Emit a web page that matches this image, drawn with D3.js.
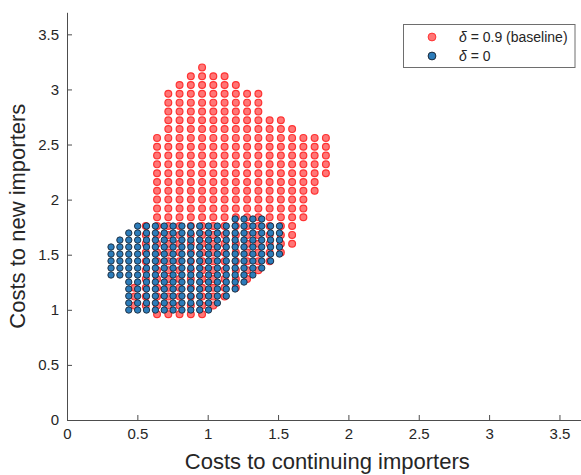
<!DOCTYPE html>
<html>
<head>
<meta charset="utf-8">
<script src="https://cdn.jsdelivr.net/npm/d3@7/dist/d3.min.js"></script>
<style>
  html, body { margin: 0; padding: 0; background: #ffffff; }
  svg { display: block; font-family: "Liberation Sans", Arial, Helvetica, sans-serif; }
</style>
</head>
<body>
<svg id="chart" width="581" height="475"></svg>
<script>
// Axis ticks
const xTicks = [0, 0.5, 1, 1.5, 2, 2.5, 3, 3.5];
const yTicks = [0, 0.5, 1, 1.5, 2, 2.5, 3, 3.5];
const xTickLabels = ["0", "0.5", "1", "1.5", "2", "2.5", "3", "3.5"];
const yTickLabels = ["0", "0.5", "1", "1.5", "2", "2.5", "3", "3.5"];

// delta = 0.9 (baseline): grid of cost pairs, column by column
const redX      = [0.48, 0.56, 0.64, 0.72, 0.80, 0.88, 0.96, 1.04, 1.12, 1.20, 1.28, 1.36, 1.44, 1.52, 1.60, 1.68, 1.76, 1.84];
const redBottom = [1.04, 1.04, 0.96, 0.96, 0.96, 0.96, 0.96, 1.04, 1.12, 1.20, 1.28, 1.36, 1.44, 1.52, 1.60, 1.84, 2.08, 2.24];
const redTop    = [1.20, 1.76, 2.56, 2.96, 3.04, 3.12, 3.20, 3.12, 3.12, 3.04, 2.96, 2.96, 2.72, 2.72, 2.64, 2.56, 2.56, 2.56];
const redRows   = [0.96, 1.04, 1.12, 1.20, 1.28, 1.36, 1.44, 1.52, 1.60, 1.68, 1.76, 1.84, 1.92, 2.00, 2.08,
                   2.16, 2.24, 2.32, 2.40, 2.48, 2.56, 2.64, 2.72, 2.80, 2.88, 2.96, 3.04, 3.12, 3.20];

// delta = 0: grid of cost pairs, column by column
const blueX      = [0.313, 0.376, 0.439, 0.502, 0.565, 0.628, 0.691, 0.754, 0.817, 0.880,
                    0.943, 1.006, 1.069, 1.132, 1.195, 1.258, 1.321, 1.384, 1.447, 1.510];
const blueBottom = [1.316, 1.316, 0.998, 0.998, 0.998, 0.998, 0.998, 0.998, 0.998, 0.998,
                    0.998, 0.998, 1.062, 1.125, 1.189, 1.252, 1.316, 1.379, 1.443, 1.506];
const blueTop    = [1.570, 1.633, 1.697, 1.760, 1.760, 1.760, 1.760, 1.760, 1.760, 1.760,
                    1.760, 1.760, 1.760, 1.760, 1.824, 1.824, 1.824, 1.824, 1.760, 1.760];
const blueRows   = [0.998, 1.062, 1.125, 1.189, 1.252, 1.316, 1.379, 1.443, 1.506, 1.570, 1.633, 1.697, 1.760, 1.824];

const seriesNames = ["0.9 (baseline)", "0"];

// Expand each column's row span into individual points
function gridPoints(xs, lows, highs, rows) {
  const pts = [];
  xs.forEach((x, i) => {
    rows.forEach(y => {
      if (y >= lows[i] - 1e-6 && y <= highs[i] + 1e-6) pts.push({ x, y });
    });
  });
  return pts;
}
const redPoints = gridPoints(redX, redBottom, redTop, redRows);
const bluePoints = gridPoints(blueX, blueBottom, blueTop, blueRows);

const svg = d3.select("#chart");
const x = d3.scaleLinear().domain([0, 3.7]).range([67, 587.6]);
const y = d3.scaleLinear().domain([0, 3.7]).range([420, 12.3]);

const axisColor = "#4d4d4d";
const textColor = "#262626";

// Axes (ticks point inward, no box)
const gx = svg.append("g")
  .attr("transform", "translate(0,420)")
  .call(d3.axisBottom(x).tickValues(xTicks).tickFormat((d, i) => xTickLabels[i])
    .tickSize(-5).tickSizeOuter(0).tickPadding(8));
const gy = svg.append("g")
  .attr("transform", "translate(67,0)")
  .call(d3.axisLeft(y).tickValues(yTicks).tickFormat((d, i) => yTickLabels[i])
    .tickSize(-5).tickSizeOuter(0).tickPadding(8));
[gx, gy].forEach(g => {
  g.select(".domain").attr("stroke", axisColor).attr("stroke-width", 1);
  g.selectAll(".tick line").attr("stroke", axisColor).attr("stroke-width", 1);
  g.selectAll(".tick text").attr("fill", textColor)
    .style("font-family", "'Liberation Sans', Arial, sans-serif").style("font-size", "15px");
});

// Scatter marks
const redFill = "rgb(255,118,118)", redEdge = "rgb(255,50,50)";
const blueFill = "rgb(44,124,186)", blueEdge = "rgb(28,40,56)";

svg.append("g").selectAll("circle").data(redPoints).join("circle")
  .attr("cx", d => x(d.x)).attr("cy", d => y(d.y)).attr("r", 3.4)
  .attr("fill", redFill).attr("stroke", redEdge).attr("stroke-width", 1.2);

svg.append("g").selectAll("circle").data(bluePoints).join("circle")
  .attr("cx", d => x(d.x)).attr("cy", d => y(d.y)).attr("r", 3.2)
  .attr("fill", blueFill).attr("stroke", blueEdge).attr("stroke-width", 0.9);

// Axis titles
svg.append("text")
  .attr("x", x(1.85)).attr("y", 469)
  .attr("text-anchor", "middle").attr("fill", textColor)
  .style("font-size", "22px")
  .text("Costs to continuing importers");
svg.append("text")
  .attr("transform", `translate(25,${y(1.85)}) rotate(-90)`)
  .attr("text-anchor", "middle").attr("fill", textColor)
  .style("font-size", "22px")
  .text("Costs to new importers");

// Legend
const lg = svg.append("g");
lg.append("rect").attr("x", 403.5).attr("y", 24.5).attr("width", 171.5).attr("height", 43)
  .attr("fill", "#ffffff").attr("stroke", "#6e6e6e").attr("stroke-width", 1);
const legendItems = [
  { name: seriesNames[0], fill: redFill, edge: redEdge, cy: 37 },
  { name: seriesNames[1], fill: blueFill, edge: blueEdge, cy: 56 }
];
legendItems.forEach(it => {
  lg.append("circle").attr("cx", 432).attr("cy", it.cy).attr("r", 3.9)
    .attr("fill", it.fill).attr("stroke", it.edge).attr("stroke-width", 1);
  const t = lg.append("text").attr("x", 459).attr("y", it.cy + 5)
    .attr("fill", textColor).style("font-size", "14px");
  t.append("tspan").style("font-style", "italic").text("δ");
  t.append("tspan").text(" = " + it.name);
});
</script>
</body>
</html>
